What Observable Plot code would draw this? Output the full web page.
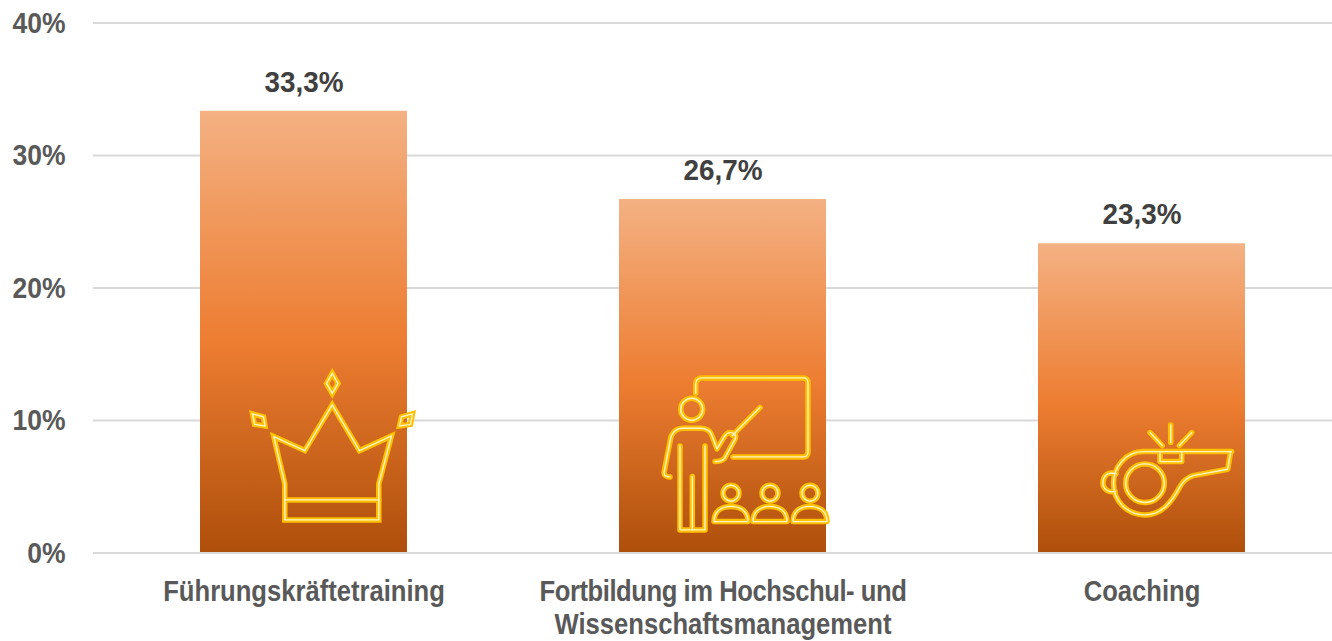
<!DOCTYPE html>
<html lang="de">
<head>
<meta charset="utf-8">
<script src="https://cdn.jsdelivr.net/npm/d3@7"></script>
<script src="https://cdn.jsdelivr.net/npm/@observablehq/plot@0.6"></script>
<style>
html,body{margin:0;padding:0;background:#fff;overflow:hidden}
svg{display:block}
</style>
</head>
<body>
<div id="chart"></div>
<script>
const categories = ["Führungskräftetraining", "Fortbildung im Hochschul- und\nWissenschaftsmanagement", "Coaching"];
const values = [33.33, 26.67, 23.33];
const yTicks = [0, 10, 20, 30, 40];

// Pictograms, drawn relative to the foot of the centre of each bar
const crownPaths = [
  "M28.7,-179L34.5,-169L28.7,-159L23,-169Z",
  "M-51,-138.5L-40,-135.5L-38.5,-126.5L-49,-128Z",
  "M109,-138.5L98,-135.5L96,-126.5L107,-128Z",
  "M-29.7,-115.8L1.3,-101.8L28.7,-147.5L56,-101.8L88,-116.5L75.3,-68.5V-32.5H-18.7V-68.5Z",
  "M-18.7,-52.5H75.3"
];
const teacherPaths = [
  "M-26.8,-159.2V-168Q-26.8,-174.5 -20,-174.5H80.5Q85.5,-174.5 85.5,-169.5V-100.5Q85.5,-95.5 80.5,-95.5H10.5",
  "M-19.8,-143.2A11,11 0 1 1 -41.8,-143.2A11,11 0 1 1 -19.8,-143.2Z",
  "M37.5,-144.8L10,-117",
  "M-52.5,-75.5C-56,-75.5 -58.5,-77 -58.5,-80L-51.5,-115.8Q-48,-124.2 -40,-124.2H-22Q-13,-124 -10.8,-117.5L-5.5,-103.5L2,-116Q6,-122 12,-118.5Q14,-116.5 12.5,-113L2,-94Q-1,-90.8 -7.5,-90.8",
  "M-42.5,-106.5V-22.5H-17.5V-106.5",
  "M-30.2,-75.8V-22.5",
  ...[0, 39, 79].flatMap(o => [
    `M${16.5 + o},-59.2A8,8 0 1 1 ${0.5 + o},-59.2A8,8 0 1 1 ${16.5 + o},-59.2Z`,
    `M${-8.5 + o},-30.8C${-8.5 + o},-42 ${o},-46 ${8.5 + o},-46C${17 + o},-46 ${25.5 + o},-42 ${25.5 + o},-30.8Z`
  ])
];
const whistlePaths = [
  "M90.2,-100.8H1.8C-16,-100.8 -28,-85 -28,-69.2C-28,-51 -14,-37.5 3.5,-37.5C20,-37.5 30,-50 38.5,-65.8C42,-72 46,-75 51.5,-76.8L86.2,-83.2L89.2,-100.8Z",
  "M22.8,-69.2A19.3,19.3 0 1 1 -15.8,-69.2A19.3,19.3 0 1 1 22.8,-69.2Z",
  "M-25.5,-78.5C-33.5,-81.5 -38.5,-76.5 -38.5,-69.5C-38.5,-63.5 -33.5,-59.5 -26.5,-61",
  "M18.5,-99.8V-90.8H40.2V-99.8",
  "M29.2,-127.5V-109.8",
  "M8.5,-119.8L20.8,-106.8",
  "M50.2,-119.8L37.8,-106.8"
];
const iconSets = [crownPaths, teacherPaths, whistlePaths];
const iconJoins = ["miter", "round", "round"];

const bars = categories.map((c, i) => ({category: c, value: values[i]}));
const deFormat = v => v.toLocaleString("de-DE", {minimumFractionDigits: 1, maximumFractionDigits: 1}) + "%";
const FONT = '"Liberation Sans",sans-serif';

function gradientDefs() {
  const svg = d3.create("svg:g");
  const g = svg.append("defs").append("linearGradient")
    .attr("id", "barFill").attr("x1", 0).attr("y1", 0).attr("x2", 0).attr("y2", 1);
  g.append("stop").attr("offset", "0%").attr("stop-color", "#F4B183");
  g.append("stop").attr("offset", "52%").attr("stop-color", "#ED7D31");
  g.append("stop").attr("offset", "100%").attr("stop-color", "#AE4F0B");
  return svg.node();
}

function icons(index, scales) {
  const root = d3.create("svg:g").attr("fill", "none").attr("stroke-linecap", "round");
  categories.forEach((c, i) => {
    const g = root.append("g").attr("stroke-linejoin", iconJoins[i])
      .attr("transform", `translate(${scales.x(c) + scales.x.bandwidth() / 2},${scales.y(0)})`);
    for (const d of iconSets[i]) g.append("path").attr("d", d).attr("stroke", "#FFC000").attr("stroke-width", 5.5);
    for (const d of iconSets[i]) g.append("path").attr("d", d).attr("stroke", "#FFF2CC").attr("stroke-width", 1.4);
  });
  return root.node();
}

const chart = Plot.plot({
  width: 1332,
  height: 641,
  marginLeft: 93,
  marginRight: 0,
  marginTop: 22,
  marginBottom: 88,
  style: {background: "#fff", fontFamily: FONT, overflow: "hidden"},
  x: {domain: categories, range: [93.1, 1351.6], paddingInner: 0.505, paddingOuter: 0.2525, label: null},
  y: {domain: [0, 40], range: [552.4, 22.4], label: null},
  marks: [
    gradientDefs,
    Plot.ruleY(yTicks, {stroke: "#D9D9D9", strokeWidth: 2}),
    Plot.barY(bars, {x: "category", y: "value", fill: "url(#barFill)"}),
    Plot.ruleY([0], {stroke: "#D9D9D9", strokeWidth: 2}),
    icons,
    Plot.text(bars, {
      x: "category", y: "value", text: d => deFormat(d.value), dy: -29,
      fontSize: 30, fontWeight: "bold", fill: "#404040", letterSpacing: "1px"
    }),
    Plot.axisY({
      ticks: yTicks, tickFormat: d => d + "%", tickSize: 0, tickPadding: 0, label: null,
      fontSize: 30, fontWeight: "bold", fill: "#595959", dx: -28, marginLeft: 93
    }),
    Plot.axisX({
      tickSize: 0, tickPadding: 24, label: null, lineHeight: 1.14, lineAnchor: "top",
      fontSize: 29, fontWeight: "bold", fill: "#595959", tickRotate: 0
    })
  ]
});
// Condense the text horizontally, keeping each label's anchor where the scale put it
const condense = (label, k) => d3.select(chart).selectAll(`g[aria-label="${label}"] text`)
  .attr("transform", function () { return `${this.getAttribute("transform") || ""} scale(${k},1)`; });
condense("x-axis tick label", 0.883);
condense("y-axis tick label", 0.883);
condense("text", 0.93);
// The first line of the two-line label runs slightly tighter in the reference
d3.select(chart).selectAll('g[aria-label="x-axis tick label"] tspan')
  .filter(function () { return this.textContent.startsWith("Fortbildung"); })
  .style("letter-spacing", "-0.5px");
document.getElementById("chart").append(chart);
</script>
</body>
</html>
